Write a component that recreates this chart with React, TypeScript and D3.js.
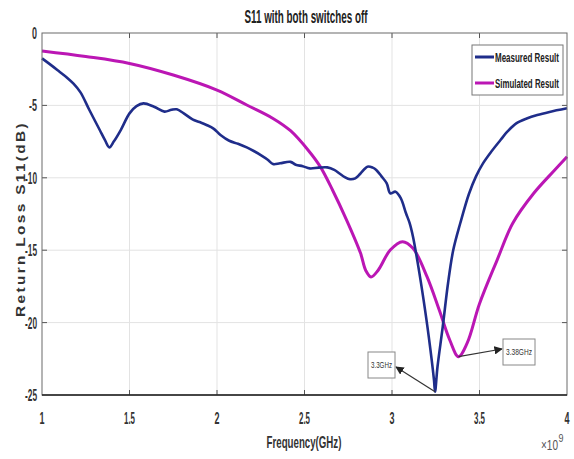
import { useEffect, useRef } from 'react';
import * as d3 from 'd3';

// Measured curve, frequency in GHz and S11 in dB
const measuredFreq = [
  1.0, 1.05, 1.1, 1.14, 1.18, 1.22, 1.27, 1.33, 1.36, 1.385, 1.41, 1.45, 1.5, 1.54, 1.58, 1.64,
  1.7, 1.74, 1.77, 1.81, 1.86, 1.9, 1.94, 1.98, 2.02, 2.07, 2.12, 2.17, 2.21, 2.25, 2.29, 2.32,
  2.36, 2.42, 2.45, 2.49, 2.53, 2.58, 2.63, 2.67, 2.7, 2.73, 2.76, 2.79, 2.82, 2.86, 2.89, 2.91,
  2.94, 2.97, 2.99, 3.02, 3.05, 3.08, 3.1, 3.12, 3.15, 3.18, 3.21, 3.24, 3.246, 3.26, 3.29, 3.32,
  3.35, 3.39, 3.44, 3.48, 3.52, 3.57, 3.62, 3.66, 3.71, 3.77, 3.83, 3.9, 4.0,
];
const measuredS11 = [
  -1.75, -2.2, -2.67, -3.05, -3.5, -4.1, -5.3, -6.7, -7.4, -7.9, -7.5, -6.7, -5.55, -5.05, -4.86,
  -5.09, -5.43, -5.3, -5.27, -5.55, -5.96, -6.15, -6.35, -6.6, -7.04, -7.44, -7.65, -7.9, -8.15,
  -8.43, -8.75, -9.05, -9.0, -8.9, -9.1, -9.2, -9.35, -9.3, -9.28, -9.45, -9.7, -9.95, -10.1,
  -10.04, -9.7, -9.23, -9.3, -9.46, -9.9, -10.38, -11.07, -10.96, -11.4, -12.45, -13.1, -14.07,
  -16.1, -18.4, -20.97, -23.97, -24.77, -23.05, -20.28, -17.3, -14.99, -13.14, -11.1, -9.9, -9.0,
  -8.15, -7.39, -6.8, -6.24, -5.9, -5.66, -5.45, -5.2,
];

// Simulated curve
const simulatedFreq = [
  1.0, 1.25, 1.5, 1.75, 2.0, 2.17, 2.32, 2.42, 2.52, 2.59, 2.66, 2.74, 2.82, 2.85, 2.88, 2.92,
  2.99, 3.06, 3.12, 3.2, 3.27, 3.33, 3.38, 3.43, 3.5, 3.6, 3.69, 3.81, 3.93, 4.0,
];
const simulatedS11 = [
  -1.24, -1.62, -2.1, -2.9, -3.94, -4.97, -5.9, -6.75, -8.08, -9.23, -10.84, -12.9, -15.2, -16.4,
  -16.85, -16.4, -14.99, -14.41, -14.87, -16.83, -19.13, -21.2, -22.35, -21.4, -18.7, -15.7,
  -13.14, -11.07, -9.46, -8.54,
];

const xTicks = [1, 1.5, 2, 2.5, 3, 3.5, 4];
const yTicks = [0, -5, -10, -15, -20, -25];

const seriesNames = ['Measured Result', 'Simulated Result'];
const seriesColors = ['#1f2d8a', '#bb16b4'];

// Data-tip annotations: [freq, s11, label]
const markers: [number, number, string][] = [
  [3.246, -24.77, '3.3GHz'],
  [3.38, -22.35, '3.38GHz'],
];

function App() {
  const ref = useRef<SVGSVGElement>(null);

  const svgWidth = 574;
  const svgHeight = 459;
  const left = 42;
  const right = 567;
  const top = 33;
  const bottom = 395;

  useEffect(() => {
    const svg = d3.select(ref.current);
    svg.selectAll('*').remove();

    const font = "'Liberation Sans', Arial, sans-serif";

    const x = d3.scaleLinear().domain([1, 4]).range([left, right]);
    const y = d3.scaleLinear().domain([-25, 0]).range([bottom, top]);

    // The reference text is tall and narrow: draw it, measure it, then squeeze it to width
    const fitted = (
      tx: number,
      ty: number,
      str: string,
      size: number,
      width: number,
      anchor: string,
      weight = 'bold',
      fill = '#333',
      rotate = 0,
      spacing = 0
    ) => {
      const t = svg
        .append('text')
        .attr('text-anchor', anchor)
        .attr('font-family', font)
        .attr('font-size', size)
        .attr('font-weight', weight)
        .attr('letter-spacing', spacing)
        .attr('fill', fill)
        .text(str);
      const w = (t.node() as SVGTextElement).getComputedTextLength() || width;
      t.attr('transform', `translate(${tx}, ${ty}) rotate(${rotate}) scale(${width / w}, 1)`);
      return t;
    };

    svg.append('rect').attr('width', svgWidth).attr('height', svgHeight).attr('fill', '#fff');

    // Grid
    const grid = svg.append('g').attr('stroke', '#e3e3e3').attr('stroke-width', 1);
    xTicks.slice(1, -1).forEach((t) => {
      grid.append('line').attr('x1', x(t)).attr('x2', x(t)).attr('y1', top).attr('y2', bottom);
    });
    yTicks.slice(1, -1).forEach((t) => {
      grid.append('line').attr('x1', left).attr('x2', right).attr('y1', y(t)).attr('y2', y(t));
    });

    // Tick marks inside the box
    const ticks = svg.append('g').attr('stroke', '#555').attr('stroke-width', 1);
    xTicks.slice(1, -1).forEach((t) => {
      ticks.append('line').attr('x1', x(t)).attr('x2', x(t)).attr('y1', bottom).attr('y2', bottom - 5);
      ticks.append('line').attr('x1', x(t)).attr('x2', x(t)).attr('y1', top).attr('y2', top + 5);
    });
    yTicks.slice(1, -1).forEach((t) => {
      ticks.append('line').attr('x1', left).attr('x2', left + 5).attr('y1', y(t)).attr('y2', y(t));
      ticks.append('line').attr('x1', right).attr('x2', right - 5).attr('y1', y(t)).attr('y2', y(t));
    });

    // Curves
    const line = d3
      .line<[number, number]>()
      .x((d) => x(d[0]))
      .y((d) => y(d[1]))
      .curve(d3.curveCatmullRom.alpha(0.5));

    const simulated = simulatedFreq.map((f, i) => [f, simulatedS11[i]] as [number, number]);
    const measured = measuredFreq.map((f, i) => [f, measuredS11[i]] as [number, number]);

    svg
      .append('path')
      .attr('d', line(simulated))
      .attr('fill', 'none')
      .attr('stroke', seriesColors[1])
      .attr('stroke-width', 3);
    svg
      .append('path')
      .attr('d', line(measured))
      .attr('fill', 'none')
      .attr('stroke', seriesColors[0])
      .attr('stroke-width', 2.6)
      .attr('stroke-linejoin', 'round');

    // Box
    svg
      .append('rect')
      .attr('x', left)
      .attr('y', top)
      .attr('width', right - left)
      .attr('height', bottom - top)
      .attr('fill', 'none')
      .attr('stroke', '#6a6a6a')
      .attr('stroke-width', 1);
    svg
      .append('line')
      .attr('x1', left)
      .attr('x2', right)
      .attr('y1', bottom)
      .attr('y2', bottom)
      .attr('stroke', '#222')
      .attr('stroke-width', 1.5);

    // Tick labels
    xTicks.forEach((t) => {
      const s = String(t);
      fitted(x(t), bottom + 29, s, 17, s.length === 1 ? 5 : 11, 'middle');
    });
    yTicks.forEach((t) => {
      const s = String(t);
      fitted(left - 5, y(t) + 6, s, 17, s.length === 1 ? 5 : s.length === 2 ? 8 : 12, 'end');
    });

    // Exponent
    fitted(541, 450, '\u00d710', 14, 17, 'start', 'normal', '#555');
    fitted(558.5, 442, '9', 10, 5, 'start', 'normal', '#555');

    // Titles
    fitted(306, 23, 'S11 with both switches off', 18, 123, 'middle', 'bold', '#222');
    fitted(304, 448, 'Frequency(GHz)', 16, 75, 'middle');
    fitted(25, 219, 'Return Loss S11(dB)', 13, 196, 'middle', 'bold', '#333', -90, 2);

    // Legend
    const lg = svg.append('g');
    lg.append('rect')
      .attr('x', 472)
      .attr('y', 45)
      .attr('width', 91)
      .attr('height', 50)
      .attr('fill', '#fff')
      .attr('stroke', '#777')
      .attr('stroke-width', 1);
    seriesNames.forEach((name, i) => {
      const yy = 57 + i * 26;
      lg.append('line')
        .attr('x1', 475)
        .attr('x2', 494)
        .attr('y1', yy)
        .attr('y2', yy)
        .attr('stroke', seriesColors[i])
        .attr('stroke-width', 3);
      fitted(495, yy + 5, name, 13, 64, 'start', 'bold', '#222');
    });

    // Data tips
    const boxes = [
      { bx: 368, by: 352, bw: 27, bh: 26 },
      { bx: 503, by: 339, bw: 32, bh: 26 },
    ];
    const defs = svg.append('defs');
    defs
      .append('marker')
      .attr('id', 'arrow')
      .attr('viewBox', '0 0 10 10')
      .attr('refX', 9)
      .attr('refY', 5)
      .attr('markerWidth', 7)
      .attr('markerHeight', 7)
      .attr('orient', 'auto')
      .append('path')
      .attr('d', 'M0,0 L10,5 L0,10 z')
      .attr('fill', '#222');

    markers.forEach(([f, v, label], i) => {
      const b = boxes[i];
      const tx = i === 0 ? b.bx + b.bw + 1 : b.bx - 1;
      const ty = i === 0 ? b.by + 15 : b.by + 10;
      svg
        .append('line')
        .attr('x1', x(f))
        .attr('y1', y(v))
        .attr('x2', tx)
        .attr('y2', ty)
        .attr('stroke', '#333')
        .attr('stroke-width', 1.2)
        .attr('marker-end', 'url(#arrow)');
      svg
        .append('rect')
        .attr('x', b.bx)
        .attr('y', b.by)
        .attr('width', b.bw)
        .attr('height', b.bh)
        .attr('fill', '#fff')
        .attr('stroke', '#888')
        .attr('stroke-width', 1);
      fitted(b.bx + b.bw / 2, b.by + b.bh / 2 + 3, label, 9, b.bw - 6, 'middle', 'normal', '#333');
    });
  }, []);

  return (
    <svg
      ref={ref}
      width={svgWidth}
      height={svgHeight}
      style={{ position: 'absolute', left: 0, top: 0 }}
    ></svg>
  );
}

export default App;
